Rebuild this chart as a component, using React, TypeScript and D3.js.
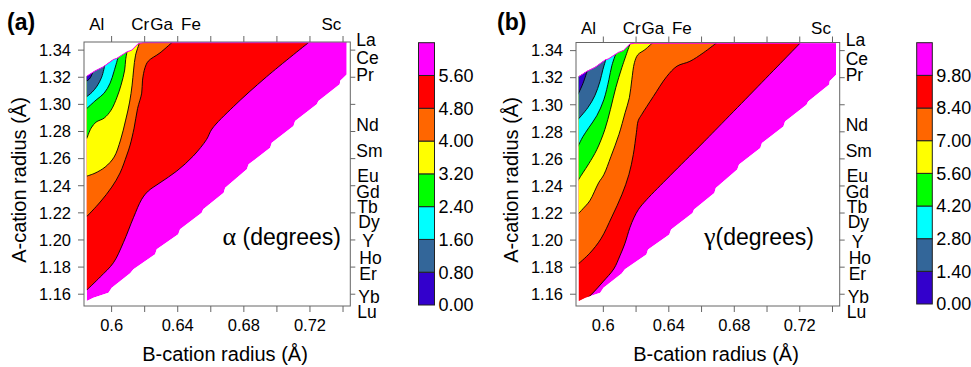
import React from 'react';
import * as d3 from 'd3';

type Pt = [number, number];

const X_DOMAIN: [number, number] = [0.5833, 0.7444];
const Y_DOMAIN: [number, number] = [1.1513, 1.346];
const X_TICKS = [0.6, 0.62, 0.64, 0.66, 0.68, 0.7, 0.72, 0.74];
const X_TICK_LABELS: [number, string][] = [[0.6, '0.6'], [0.64, '0.64'], [0.68, '0.68'], [0.72, '0.72']];
const Y_TICKS = [1.16, 1.18, 1.2, 1.22, 1.24, 1.26, 1.28, 1.3, 1.32, 1.34];
const B_CATIONS: [string, number][] = [['Al', 0.591], ['Cr', 0.6173], ['Ga', 0.6303], ['Fe', 0.648], ['Sc', 0.733]];
const A_CATIONS: [string, number][] = [
  ['La', 1.3476], ['Ce', 1.3342], ['Pr', 1.3219], ['Nd', 1.285], ['Sm', 1.2656], ['Eu', 1.2475],
  ['Gd', 1.2355], ['Tb', 1.2242], ['Dy', 1.2137], ['Y', 1.199], ['Ho', 1.187], ['Er', 1.175],
  ['Yb', 1.158], ['Lu', 1.147],
];
const BAND_COLORS = ['#3300cc', '#336699', '#00ffff', '#00ff00', '#ffff00', '#ff6600', '#ff0000', '#ff00ff'];
const ALPHA_LEVELS = [0, 0.8, 1.6, 2.4, 3.2, 4.0, 4.8, 5.6];
const GAMMA_LEVELS = [0, 1.4, 2.8, 4.2, 5.6, 7.0, 8.4, 9.8];

// region of stable compositions (B radius, A radius)
const DOMAIN: Pt[] = [
  [0.585, 1.155], [0.585, 1.3208], [0.59, 1.3247], [0.595, 1.3277], [0.6011, 1.3331], [0.6031, 1.3339],
  [0.6092, 1.3387], [0.6122, 1.34], [0.6162, 1.3449], [0.6192, 1.3455], [0.7422, 1.3455], [0.7422, 1.3221],
  [0.7383, 1.3175], [0.738, 1.3149], [0.7251, 1.3024], [0.7241, 1.3], [0.711, 1.2877], [0.71, 1.284],
  [0.6969, 1.2717], [0.6959, 1.268], [0.6829, 1.2558], [0.6818, 1.2521], [0.6687, 1.2385], [0.6678, 1.2348],
  [0.6554, 1.2226], [0.6545, 1.2201], [0.6414, 1.2079], [0.6403, 1.2042], [0.6273, 1.1931], [0.6263, 1.1894],
  [0.6132, 1.1784], [0.6112, 1.1754], [0.6001, 1.1648], [0.5981, 1.1611], [0.589, 1.1574],
];

const ALPHA_C08: Pt[] = [[0.589, 1.325], [0.587, 1.3194], [0.585, 1.3172]];
const ALPHA_C16: Pt[] = [[0.596, 1.3295], [0.594, 1.3201], [0.5912, 1.3135], [0.5882, 1.309], [0.585, 1.3057]];
const ALPHA_C24: Pt[] = [[0.604, 1.335], [0.6015, 1.3245], [0.5991, 1.3157], [0.5955, 1.3083], [0.5906, 1.3032], [0.585, 1.297]];
const ALPHA_C32: Pt[] = [[0.6095, 1.34], [0.6085, 1.333], [0.6079, 1.3253], [0.6057, 1.3142], [0.6033, 1.3054], [0.5997, 1.2958], [0.5955, 1.2899], [0.5906, 1.2869], [0.5876, 1.2825], [0.585, 1.2748]];
const ALPHA_C40: Pt[] = [[0.6172, 1.3465], [0.6145, 1.3363], [0.6133, 1.3253], [0.6124, 1.3142], [0.6109, 1.3017], [0.6085, 1.2884], [0.6054, 1.2737], [0.6015, 1.2611], [0.5961, 1.2538], [0.59, 1.2493], [0.585, 1.2471]];
const ALPHA_C48: Pt[] = [[0.6373, 1.3465], [0.6293, 1.338], [0.6222, 1.3319], [0.6202, 1.327], [0.6187, 1.3179], [0.6182, 1.3083], [0.6157, 1.2969], [0.6136, 1.2825], [0.6112, 1.27], [0.6092, 1.2626], [0.6051, 1.2494], [0.6001, 1.239], [0.5931, 1.228], [0.585, 1.2173]];
const ALPHA_C56: Pt[] = [[0.7201, 1.3465], [0.6937, 1.3203], [0.6736, 1.2982], [0.6607, 1.2818], [0.6575, 1.2742], [0.6494, 1.2619], [0.6394, 1.2508], [0.6293, 1.2422], [0.6222, 1.2361], [0.6182, 1.23], [0.6132, 1.2164], [0.6071, 1.198], [0.6011, 1.1832], [0.5931, 1.1727], [0.585, 1.1631]];

const GAMMA_C14: Pt[] = [[0.5902, 1.3252], [0.5875, 1.3156], [0.5844, 1.3074]];
const GAMMA_C28: Pt[] = [[0.6021, 1.3356], [0.5997, 1.3259], [0.5979, 1.3171], [0.5948, 1.3067], [0.5905, 1.2978], [0.5844, 1.289]];
const GAMMA_C42: Pt[] = [[0.6083, 1.34], [0.6052, 1.3289], [0.6034, 1.3185], [0.6003, 1.3037], [0.596, 1.2919], [0.5911, 1.283], [0.5875, 1.2764], [0.5844, 1.269]];
const GAMMA_C56: Pt[] = [[0.6168, 1.3467], [0.6113, 1.3274], [0.6076, 1.3126], [0.6043, 1.2964], [0.6009, 1.2816], [0.596, 1.2668], [0.5911, 1.2564], [0.5875, 1.2497], [0.5844, 1.2438]];
const GAMMA_C70: Pt[] = [[0.6309, 1.3467], [0.6254, 1.3407], [0.6211, 1.337], [0.619, 1.3311], [0.6174, 1.3185], [0.6159, 1.3052], [0.6133, 1.2941], [0.6095, 1.2779], [0.6046, 1.2616], [0.6003, 1.2483], [0.5971, 1.2423], [0.5917, 1.229], [0.5875, 1.2231], [0.5844, 1.219]];
const GAMMA_C84: Pt[] = [[0.6702, 1.3467], [0.661, 1.3383], [0.6529, 1.3321], [0.645, 1.3285], [0.6387, 1.3208], [0.6305, 1.306], [0.6234, 1.2927], [0.6213, 1.2882], [0.6202, 1.2793], [0.6183, 1.2631], [0.6156, 1.2483], [0.6113, 1.2335], [0.6052, 1.2172], [0.5985, 1.2009], [0.5917, 1.1903], [0.5844, 1.1821]];
const GAMMA_C98: Pt[] = [[0.721, 1.3465], [0.6615, 1.2727], [0.6407, 1.2475], [0.6264, 1.2298], [0.6215, 1.2227], [0.6187, 1.2165], [0.6162, 1.2091], [0.6131, 1.1972], [0.6101, 1.1883], [0.6064, 1.1787], [0.5997, 1.1691], [0.5942, 1.1617], [0.5893, 1.1558], [0.5856, 1.1513]];

const ALPHA_CONTOURS = [ALPHA_C08, ALPHA_C16, ALPHA_C24, ALPHA_C32, ALPHA_C40, ALPHA_C48, ALPHA_C56];
const GAMMA_CONTOURS = [GAMMA_C14, GAMMA_C28, GAMMA_C42, GAMMA_C56, GAMMA_C70, GAMMA_C84, GAMMA_C98];

const FONT = '"Liberation Sans", Arial, Helvetica, sans-serif';
const GREEK_FONT = '"Liberation Serif", "DejaVu Serif", serif';
const LABEL_DX: Record<string, number> = { Eu: 1, Tb: 1, Dy: 2, Y: 6, Ho: 3, Er: 3, Yb: 2, Lu: 1 };

interface Layout {
  id: string; left: number; right: number; top: number; bottom: number;
  cbX: number; cbW: number; cbTop: number; cbBottom: number;
  tagX: number; yTitleX: number; xTitleX: number; topLabelY: number;
  qtyEndX: number; greek: string; qty: string;
}

function Panel({ p, contours, levels }: { p: Layout; contours: Pt[][]; levels: number[] }) {
  const x = d3.scaleLinear().domain(X_DOMAIN).range([p.left, p.right]);
  const y = d3.scaleLinear().domain(Y_DOMAIN).range([p.bottom, p.top]);
  const poly = d3.line<Pt>().x(d => x(d[0])).y(d => y(d[1]));
  const smooth = d3.line<Pt>().x(d => x(d[0])).y(d => y(d[1])).curve(d3.curveCatmullRom);
  const clipId = `clip-${p.id}`;
  const domainPath = poly(DOMAIN) + 'Z';
  const edgePath = poly(DOMAIN.slice(1, 11)) || '';
  const cornerX = x(0.58);
  const cornerY = y(1.35);
  const regionPath = (pts: Pt[]) => {
    const last = pts[pts.length - 1];
    return `${smooth(pts)}L${cornerX},${y(last[1])}L${cornerX},${cornerY}Z`;
  };
  const cb = d3.scaleLinear().domain([0, 8]).range([p.cbBottom, p.cbTop]);
  const order = contours.map((c, i) => i).reverse();

  return (
    <g fontFamily={FONT} fill="#000">
      <defs>
        <clipPath id={clipId}>
          <path d={domainPath} />
        </clipPath>
      </defs>
      <text x={p.tagX} y={30} fontSize={23} fontWeight="bold">({p.id})</text>
      <g clipPath={`url(#${clipId})`}>
        <path d={domainPath} fill={BAND_COLORS[7]} />
        {order.map(i => (
          <path key={`f${i}`} d={regionPath(contours[i])} fill={BAND_COLORS[i]} />
        ))}
        {order.map(i => (
          <path key={`l${i}`} d={smooth(contours[i]) || ''} fill="none" stroke="#000" strokeWidth={0.9} />
        ))}
      </g>
      <path d={edgePath} fill="none" stroke="#ff00ff" strokeWidth={1} />
      <rect x={p.left} y={p.top} width={p.right - p.left} height={p.bottom - p.top} fill="none" stroke="#666" strokeWidth={1} />
      {X_TICKS.map(t => (
        <g key={`xt${t}`} stroke="#666" strokeWidth={1}>
          <line x1={x(t)} x2={x(t)} y1={p.bottom} y2={p.bottom + 6} />
          <line x1={x(t)} x2={x(t)} y1={p.top} y2={p.top - 6} />
        </g>
      ))}
      {Y_TICKS.map(t => (
        <g key={`yt${t}`} stroke="#666" strokeWidth={1}>
          <line x1={p.left} x2={p.left - 6} y1={y(t)} y2={y(t)} />
          <line x1={p.right} x2={p.right + 5} y1={y(t)} y2={y(t)} />
        </g>
      ))}
      {X_TICK_LABELS.map(([v, s]) => (
        <text key={`xl${v}`} x={x(v)} y={330.5} fontSize={16.5} textAnchor="middle">{s}</text>
      ))}
      {Y_TICKS.map(t => (
        <text key={`yl${t}`} x={p.left - 13} y={y(t)} dy="0.35em" fontSize={16.5} textAnchor="end">{t.toFixed(2)}</text>
      ))}
      {B_CATIONS.map(([s, v]) => (
        <text key={`b${s}`} x={x(v)} y={p.topLabelY} fontSize={17} textAnchor="middle">{s}</text>
      ))}
      {A_CATIONS.map(([s, v]) => (
        <text key={`a${s}`} x={p.right + 6 + (LABEL_DX[s] || 0)} y={y(v)} dy="0.35em" fontSize={17.5}>{s}</text>
      ))}
      <text x={p.xTitleX} y={361} fontSize={20} textAnchor="middle">B-cation radius (Å)</text>
      <text transform={`translate(${p.yTitleX},180) rotate(-90)`} fontSize={20} textAnchor="middle">A-cation radius (Å)</text>
      <text x={p.qtyEndX} y={245} fontSize={23} textAnchor="end">
        <tspan fontFamily={GREEK_FONT} fontSize={26}>{p.greek}</tspan>
        <tspan>{p.qty}</tspan>
      </text>
      {BAND_COLORS.map((c, i) => (
        <rect key={`cb${i}`} x={p.cbX} y={cb(i + 1)} width={p.cbW} height={cb(i) - cb(i + 1)} fill={c} stroke="#222" strokeWidth={1} />
      ))}
      {levels.map((v, i) => (
        <text key={`cl${i}`} x={p.cbX + p.cbW + 4} y={cb(i)} dy="0.35em" fontSize={18}>{v.toFixed(2)}</text>
      ))}
    </g>
  );
}

const LAYOUT_A: Layout = {
  id: 'a', left: 84, right: 350.3, top: 42, bottom: 306,
  cbX: 418.5, cbW: 16, cbTop: 42.7, cbBottom: 305,
  tagX: 7, yTitleX: 26, xTitleX: 225, topLabelY: 30, qtyEndX: 341, greek: 'α', qty: ' (degrees)',
};
const LAYOUT_B: Layout = {
  id: 'b', left: 576, right: 839.7, top: 42.5, bottom: 306,
  cbX: 916.7, cbW: 15.6, cbTop: 42.7, cbBottom: 304,
  tagX: 497, yTitleX: 518, xTitleX: 716, topLabelY: 34, qtyEndX: 814, greek: 'γ', qty: '(degrees)',
};

export default function App() {
  return (
    <svg width={971} height={367} style={{ position: 'absolute', left: 0, top: 0, background: '#fff' }}>
      <rect width={971} height={367} fill="#fff" />
      <Panel p={LAYOUT_A} contours={ALPHA_CONTOURS} levels={ALPHA_LEVELS} />
      <Panel p={LAYOUT_B} contours={GAMMA_CONTOURS} levels={GAMMA_LEVELS} />
    </svg>
  );
}
